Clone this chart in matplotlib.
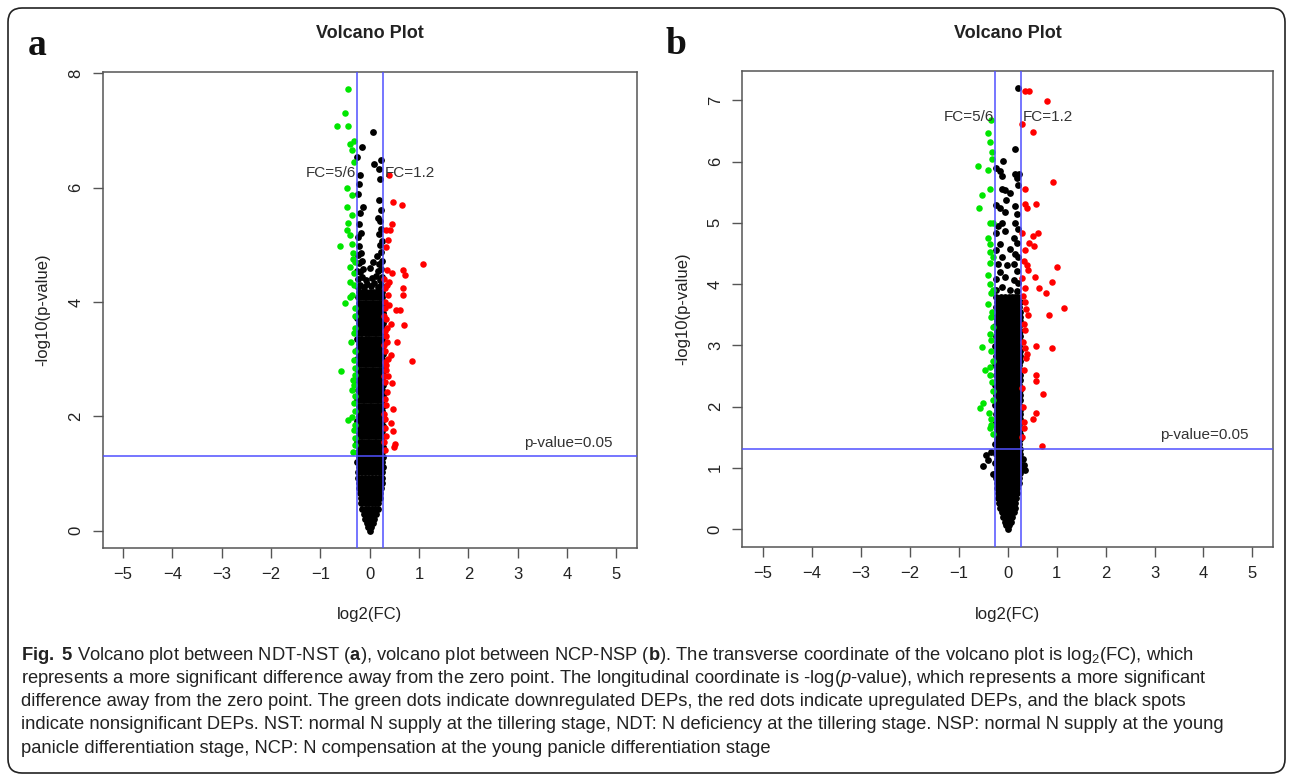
import numpy as np
import matplotlib
matplotlib.use('Agg')
import matplotlib.pyplot as plt
from matplotlib.patches import FancyBboxPatch
from matplotlib.transforms import IdentityTransform

# values (x = log2(FC), y = -log10(p-value))

# panel a (NDT-NST): dense black core, one y per row and the x positions in it
a_core_y = [0.00, 0.06, 0.13, 0.21, 0.30, 0.39, 0.48, 0.57, 0.66, 0.75, 0.84, 0.93,
            1.02, 1.11, 1.20, 1.29, 1.38, 1.47, 1.56, 1.65, 1.74, 1.83, 1.92, 2.01,
            2.10, 2.19, 2.28, 2.37, 2.46, 2.55, 2.64, 2.73, 2.82, 2.91, 3.00, 3.09,
            3.18, 3.27, 3.36, 3.45, 3.54, 3.63, 3.72, 3.81, 3.90, 3.99, 4.08, 4.17]
a_core_x = [
    [0.00],
    [-0.03, 0.03],
    [-0.06, 0.00, 0.06],
    [-0.09, -0.03, 0.03, 0.09],
    [-0.12, -0.05, 0.02, 0.08, 0.13],
    [-0.15, -0.08, -0.01, 0.05, 0.11, 0.16],
    [-0.17, -0.10, -0.03, 0.04, 0.10, 0.17],
    [-0.18, -0.12, -0.05, 0.02, 0.08, 0.14, 0.20],
    [-0.20, -0.13, -0.06, 0.00, 0.07, 0.14, 0.21],
    [-0.21, -0.14, -0.07, -0.01, 0.06, 0.13, 0.19, 0.23],
    [-0.22, -0.15, -0.08, -0.01, 0.06, 0.13, 0.20, 0.24],
    [-0.23, -0.16, -0.09, -0.02, 0.05, 0.12, 0.19, 0.25],
    [-0.24, -0.17, -0.10, -0.03, 0.04, 0.11, 0.18, 0.25],
    [-0.21, -0.14, -0.07, 0.00, 0.07, 0.14, 0.21, 0.26],
    [-0.25, -0.18, -0.11, -0.04, 0.03, 0.10, 0.17, 0.24],
    [-0.22, -0.15, -0.08, -0.01, 0.06, 0.13, 0.20, 0.26],
    [-0.24, -0.17, -0.10, -0.03, 0.04, 0.11, 0.18, 0.25],
    [-0.21, -0.14, -0.07, 0.00, 0.07, 0.15, 0.22, 0.26],
    [-0.25, -0.18, -0.11, -0.04, 0.03, 0.10, 0.17, 0.24],
    [-0.22, -0.15, -0.08, -0.01, 0.06, 0.13, 0.20, 0.26],
    [-0.24, -0.17, -0.10, -0.03, 0.04, 0.11, 0.18, 0.25],
    [-0.21, -0.14, -0.07, 0.01, 0.08, 0.15, 0.22, 0.26],
    [-0.25, -0.18, -0.11, -0.04, 0.03, 0.10, 0.17, 0.24],
    [-0.22, -0.15, -0.08, -0.01, 0.06, 0.13, 0.20, 0.26],
    [-0.24, -0.17, -0.10, -0.03, 0.04, 0.11, 0.19, 0.25],
    [-0.21, -0.14, -0.07, 0.00, 0.07, 0.14, 0.21, 0.26],
    [-0.25, -0.18, -0.11, -0.04, 0.03, 0.10, 0.17, 0.24],
    [-0.22, -0.15, -0.08, -0.01, 0.06, 0.13, 0.20, 0.26],
    [-0.24, -0.17, -0.10, -0.03, 0.04, 0.11, 0.18, 0.25],
    [-0.21, -0.14, -0.07, 0.00, 0.07, 0.14, 0.21, 0.26],
    [-0.25, -0.18, -0.11, -0.04, 0.03, 0.10, 0.17, 0.24],
    [-0.22, -0.15, -0.08, -0.01, 0.06, 0.13, 0.20, 0.26],
    [-0.24, -0.17, -0.10, -0.03, 0.04, 0.11, 0.18, 0.25],
    [-0.21, -0.14, -0.07, 0.00, 0.07, 0.14, 0.21, 0.26],
    [-0.25, -0.18, -0.11, -0.04, 0.03, 0.10, 0.17, 0.24],
    [-0.22, -0.15, -0.08, -0.01, 0.06, 0.13, 0.20, 0.26],
    [-0.24, -0.17, -0.11, -0.03, 0.04, 0.11, 0.18, 0.25],
    [-0.21, -0.14, -0.06, 0.00, 0.07, 0.14, 0.21, 0.26],
    [-0.25, -0.18, -0.10, -0.04, 0.03, 0.10, 0.17, 0.24],
    [-0.22, -0.15, -0.08, -0.01, 0.06, 0.13, 0.20, 0.26],
    [-0.24, -0.17, -0.10, -0.03, 0.04, 0.11, 0.18, 0.25],
    [-0.21, -0.14, -0.07, 0.01, 0.08, 0.14, 0.21, 0.26],
    [-0.25, -0.18, -0.11, -0.04, 0.03, 0.10, 0.17, 0.24],
    [-0.22, -0.15, -0.08, -0.01, 0.06, 0.13, 0.20, 0.26],
    [-0.24, -0.17, -0.10, -0.03, 0.04, 0.12, 0.18, 0.25],
    [-0.21, -0.14, -0.07, 0.00, 0.07, 0.14, 0.21, 0.26],
    [-0.24, -0.17, -0.10, -0.03, 0.05, 0.11, 0.18, 0.24],
    [-0.22, -0.15, -0.08, 0.00, 0.07, 0.13, 0.20, 0.25],
]
a_black_x = [-0.24, -0.19, -0.12, -0.05, 0.02, 0.09, 0.16, 0.22,
             -0.23, -0.16, -0.08, 0.05, 0.13, 0.20, 0.25,
             -0.25, -0.20, -0.13, 0.00, 0.17, 0.23,
             -0.22, -0.15, 0.06, 0.19, 0.25,
             -0.24, -0.18, 0.15, 0.22,
             -0.21, 0.20, 0.24,
             -0.24, -0.17, 0.18, 0.23,
             -0.22, 0.21, -0.20, 0.22, 0.18, -0.23,
             0.06, -0.16, -0.25, 0.09, 0.23, 0.19, -0.19, -0.21, 0.21, 0.17, -0.13]
a_black_y = [4.27, 4.30, 4.26, 4.31, 4.28, 4.33, 4.27, 4.30,
             4.40, 4.44, 4.38, 4.42, 4.45, 4.39, 4.43,
             4.55, 4.52, 4.58, 4.60, 4.54, 4.57,
             4.68, 4.72, 4.70, 4.66, 4.71,
             4.82, 4.86, 4.80, 4.88,
             4.98, 5.00, 5.06,
             5.14, 5.20, 5.18, 5.28,
             5.37, 5.42, 5.55, 5.60, 5.78, 5.88,
             6.98, 6.71, 6.54, 6.41, 6.48, 6.32, 6.22, 6.07, 6.15, 5.46, 5.66]
a_green_x = [-0.43, -0.50, -0.66, -0.43, -0.32, -0.40, -0.36, -0.31, -0.47, -0.36,
             -0.47, -0.36, -0.43, -0.47, -0.40, -0.61, -0.36, -0.33, -0.40, -0.32,
             -0.40, -0.36, -0.50, -0.40, -0.38, -0.32, -0.59, -0.34, -0.36, -0.31,
             -0.43, -0.36, -0.34, -0.31, -0.29, -0.30, -0.29, -0.31, -0.29, -0.30,
             -0.29, -0.31, -0.29, -0.30, -0.29, -0.30, -0.29, -0.31, -0.29, -0.33]
a_green_y = [7.73, 7.30, 7.08, 7.08, 6.81, 6.76, 6.66, 6.45, 5.99, 5.87,
             5.66, 5.52, 5.38, 5.26, 5.17, 4.98, 5.01, 4.85, 4.62, 4.50,
             4.35, 4.12, 3.99, 4.09, 3.30, 2.98, 2.79, 2.63, 2.46, 2.23,
             1.94, 1.99, 1.38, 1.76, 3.90, 3.75, 3.55, 3.45, 3.15, 2.85,
             2.72, 2.55, 2.35, 2.10, 1.85, 1.62, 1.50, 4.30, 4.70, 4.75]
a_red_x = [0.40, 0.47, 0.65, 0.45, 0.33, 0.41, 0.37, 0.33, 1.09, 0.68,
           0.71, 0.45, 0.35, 0.67, 0.68, 0.38, 0.61, 0.70, 0.43, 0.56,
           0.85, 0.43, 0.45, 0.47, 0.43, 0.48, 0.50, 0.52, 0.35, 0.33,
           0.29, 0.31, 0.30, 0.32, 0.29, 0.34, 0.30, 0.33, 0.29, 0.31,
           0.30, 0.34, 0.29, 0.31, 0.30, 0.33, 0.29, 0.31, 0.30, 0.34,
           0.29, 0.31, 0.36, 0.38, 0.37, 0.36, 0.35, 0.40, 0.39, 0.53]
a_red_y = [6.22, 5.75, 5.69, 5.36, 5.26, 5.26, 5.09, 4.96, 4.67, 4.56,
           4.47, 4.50, 4.56, 4.24, 4.12, 4.13, 3.86, 3.60, 3.62, 3.30,
           2.97, 3.07, 2.58, 2.13, 1.88, 1.75, 1.47, 1.52, 2.43, 2.81,
           4.40, 4.25, 4.00, 3.90, 3.75, 3.70, 3.50, 3.40, 3.25, 3.15,
           2.95, 2.90, 2.70, 2.60, 2.30, 2.20, 2.05, 1.95, 1.80, 1.65,
           1.55, 1.42, 3.30, 3.00, 2.70, 4.30, 3.55, 4.35, 3.95, 3.86]

# panel b (NCP-NSP)
b_core_y = [0.00, 0.06, 0.12, 0.19, 0.27, 0.35, 0.43, 0.51, 0.59, 0.67, 0.75, 0.83,
            0.91, 0.99, 1.07, 1.15, 1.23, 1.31, 1.39, 1.47, 1.55, 1.63, 1.71, 1.79,
            1.87, 1.95, 2.03, 2.11, 2.19, 2.27, 2.35, 2.43, 2.51, 2.59, 2.67, 2.75,
            2.83, 2.91, 2.99, 3.07, 3.15, 3.23, 3.31, 3.39, 3.47, 3.55, 3.63, 3.71,
            3.79]
b_core_x = [
    [0.00],
    [-0.03, 0.03],
    [-0.06, 0.00, 0.06],
    [-0.09, -0.03, 0.03, 0.09],
    [-0.12, -0.05, 0.02, 0.08, 0.12],
    [-0.15, -0.08, -0.01, 0.05, 0.11, 0.15],
    [-0.17, -0.10, -0.03, 0.04, 0.10, 0.16],
    [-0.19, -0.12, -0.05, 0.02, 0.08, 0.14, 0.18],
    [-0.20, -0.13, -0.06, 0.00, 0.07, 0.13, 0.20],
    [-0.21, -0.14, -0.07, -0.01, 0.06, 0.13, 0.20],
    [-0.22, -0.15, -0.08, -0.01, 0.06, 0.13, 0.20, 0.23],
    [-0.23, -0.16, -0.09, -0.02, 0.05, 0.12, 0.19, 0.24],
    [-0.24, -0.17, -0.10, -0.03, 0.04, 0.11, 0.18, 0.25],
    [-0.21, -0.14, -0.07, 0.00, 0.07, 0.14, 0.21, 0.26],
    [-0.25, -0.18, -0.11, -0.04, 0.03, 0.10, 0.17, 0.24],
    [-0.22, -0.15, -0.08, -0.01, 0.06, 0.13, 0.20, 0.26],
    [-0.24, -0.17, -0.10, -0.03, 0.04, 0.11, 0.18, 0.25],
    [-0.21, -0.14, -0.07, 0.00, 0.07, 0.15, 0.22, 0.26],
    [-0.25, -0.18, -0.11, -0.04, 0.03, 0.10, 0.17, 0.24],
    [-0.22, -0.15, -0.08, -0.01, 0.06, 0.13, 0.20, 0.26],
    [-0.24, -0.17, -0.10, -0.03, 0.04, 0.11, 0.18, 0.25],
    [-0.21, -0.14, -0.07, 0.01, 0.08, 0.15, 0.22, 0.26],
    [-0.25, -0.18, -0.11, -0.04, 0.03, 0.10, 0.17, 0.24],
    [-0.22, -0.15, -0.08, -0.01, 0.06, 0.13, 0.20, 0.26],
    [-0.24, -0.17, -0.10, -0.03, 0.04, 0.11, 0.19, 0.25],
    [-0.21, -0.14, -0.07, 0.00, 0.07, 0.14, 0.21, 0.26],
    [-0.25, -0.18, -0.11, -0.04, 0.03, 0.10, 0.17, 0.24],
    [-0.22, -0.15, -0.08, -0.01, 0.06, 0.13, 0.20, 0.26],
    [-0.24, -0.17, -0.10, -0.03, 0.04, 0.11, 0.18, 0.25],
    [-0.21, -0.14, -0.07, 0.00, 0.07, 0.14, 0.21, 0.26],
    [-0.25, -0.18, -0.11, -0.04, 0.03, 0.10, 0.17, 0.24],
    [-0.22, -0.15, -0.08, -0.01, 0.06, 0.13, 0.20, 0.26],
    [-0.24, -0.17, -0.10, -0.03, 0.04, 0.11, 0.18, 0.25],
    [-0.21, -0.14, -0.07, 0.00, 0.07, 0.14, 0.21, 0.26],
    [-0.25, -0.18, -0.11, -0.04, 0.03, 0.10, 0.17, 0.24],
    [-0.22, -0.15, -0.08, -0.01, 0.06, 0.13, 0.20, 0.26],
    [-0.24, -0.17, -0.11, -0.03, 0.04, 0.11, 0.18, 0.25],
    [-0.21, -0.14, -0.06, 0.00, 0.07, 0.14, 0.21, 0.26],
    [-0.25, -0.18, -0.10, -0.04, 0.03, 0.10, 0.17, 0.24],
    [-0.22, -0.15, -0.08, -0.01, 0.06, 0.13, 0.20, 0.26],
    [-0.24, -0.17, -0.10, -0.03, 0.04, 0.11, 0.18, 0.25],
    [-0.21, -0.14, -0.07, 0.01, 0.08, 0.14, 0.21, 0.26],
    [-0.25, -0.18, -0.11, -0.04, 0.03, 0.10, 0.17, 0.24],
    [-0.22, -0.15, -0.08, -0.01, 0.06, 0.13, 0.20, 0.26],
    [-0.24, -0.17, -0.10, -0.03, 0.04, 0.12, 0.18, 0.25],
    [-0.21, -0.14, -0.07, 0.00, 0.07, 0.14, 0.21, 0.26],
    [-0.24, -0.17, -0.10, -0.03, 0.05, 0.11, 0.18, 0.24],
    [-0.22, -0.15, -0.08, 0.00, 0.07, 0.13, 0.20, 0.25],
    [-0.23, -0.14, -0.06, 0.02, 0.09, 0.16, 0.22],
]
b_black_x = [-0.23, -0.16, 0.15, 0.19, -0.05, -0.12, -0.19, 0.15, 0.21, -0.23,
             -0.05, 0.12, 0.19, -0.16, -0.23, 0.05, 0.15, 0.21, -0.12, -0.19,
             -0.02, 0.12, 0.19, -0.16, -0.23, -0.05, 0.12, 0.21, -0.12, 0.05,
             -0.23, 0.19, 0.21, 0.15, -0.10, -0.23, -0.15, 0.15, 0.19, 0.24,
             -0.12, 0.21, -0.12, -0.05, 0.05, -0.03, -0.45, -0.50, -0.40, 0.35,
             0.33, -0.35, 0.31, -0.30]
b_black_y = [5.29, 5.24, 5.27, 5.15, 5.18, 5.00, 4.95, 5.00, 4.90, 4.84,
             4.86, 4.75, 4.67, 4.65, 4.55, 4.57, 4.49, 4.44, 4.44, 4.33,
             4.31, 4.33, 4.22, 4.20, 4.09, 4.12, 4.06, 4.01, 3.96, 3.90,
             3.90, 3.88, 7.20, 6.20, 6.01, 5.90, 5.84, 5.79, 5.73, 5.79,
             5.76, 5.62, 5.56, 5.54, 5.48, 5.38, 1.20, 1.03, 1.12, 0.96,
             1.05, 1.25, 1.15, 0.90]
b_green_x = [-0.35, -0.40, -0.36, -0.31, -0.31, -0.60, -0.40, -0.37, -0.53, -0.59,
             -0.36, -0.30, -0.40, -0.36, -0.36, -0.30, -0.36, -0.40, -0.36, -0.34,
             -0.40, -0.31, -0.33, -0.36, -0.35, -0.53, -0.33, -0.30, -0.36, -0.47,
             -0.36, -0.31, -0.29, -0.50, -0.57, -0.38, -0.33, -0.35, -0.36, -0.29,
             -0.30, -0.29, -0.30]
b_green_y = [6.68, 6.46, 6.32, 6.16, 6.04, 5.93, 5.87, 5.56, 5.46, 5.24,
             4.99, 5.00, 4.75, 4.65, 4.53, 4.45, 4.34, 4.15, 4.00, 3.85,
             3.68, 3.55, 3.47, 3.19, 3.08, 2.97, 2.90, 2.75, 2.65, 2.59,
             2.52, 2.40, 2.25, 2.05, 1.98, 1.89, 1.80, 1.70, 1.65, 3.30,
             3.90, 2.10, 1.55]
b_red_x = [0.35, 0.44, 0.81, 0.30, 0.51, 0.92, 0.35, 0.35, 0.58, 0.40,
           0.62, 0.51, 0.29, 0.44, 0.54, 0.35, 0.34, 0.40, 1.00, 0.42,
           0.56, 0.91, 0.35, 0.64, 0.79, 1.15, 0.84, 0.41, 0.35, 0.37,
           0.33, 0.35, 0.32, 0.35, 0.40, 0.38, 0.58, 0.91, 0.58, 0.57,
           0.72, 0.58, 0.52, 0.33, 0.33, 0.31, 0.34, 0.30, 0.70, 0.29,
           0.31, 0.30]
b_red_y = [7.16, 7.16, 6.99, 6.61, 6.49, 5.66, 5.56, 5.31, 5.30, 5.24,
           4.84, 4.78, 4.83, 4.67, 4.62, 4.55, 4.38, 4.31, 4.28, 4.23,
           4.12, 4.03, 3.94, 3.94, 3.85, 3.61, 3.49, 3.49, 3.70, 3.60,
           3.35, 3.25, 3.05, 2.95, 2.85, 2.80, 2.99, 2.96, 2.51, 2.42,
           2.20, 1.90, 1.79, 1.75, 1.65, 2.00, 2.60, 2.30, 1.36, 1.50,
           3.80, 4.10]

x_ticks = [-5, -4, -3, -2, -1, 0, 1, 2, 3, 4, 5]
a_y_ticks = [0, 2, 4, 6, 8]
b_y_ticks = [0, 1, 2, 3, 4, 5, 6, 7]

caption_lines = [
    r"$\mathbf{Fig.}$ $\mathbf{5}$ Volcano plot between NDT-NST ($\mathbf{a}$), volcano plot between NCP-NSP ($\mathbf{b}$). "
    r"The transverse coordinate of the volcano plot is log$_\mathregular{2}$(FC), which",
    r"represents a more significant difference away from the zero point. The longitudinal coordinate is "
    r"-log($\mathit{p}$-value), which represents a more significant",
    "difference away from the zero point. The green dots indicate downregulated DEPs, the red dots indicate "
    "upregulated DEPs, and the black spots",
    "indicate nonsignificant DEPs. NST: normal N supply at the tillering stage, NDT: N deficiency at the tillering "
    "stage. NSP: normal N supply at the young",
    "panicle differentiation stage, NCP: N compensation at the young panicle differentiation stage",
]

fc_low = np.log2(5 / 6)
fc_high = np.log2(1.2)
p_cut = -np.log10(0.05)

W, H = 1293, 776
plt.rcParams['font.family'] = ['Liberation Sans', 'DejaVu Sans']
plt.rcParams['mathtext.fontset'] = 'custom'
plt.rcParams['mathtext.rm'] = 'Liberation Sans'
plt.rcParams['mathtext.it'] = 'Liberation Sans:italic'
plt.rcParams['mathtext.bf'] = 'Liberation Sans:bold'

fig = plt.figure(figsize=(W / 100, H / 100), dpi=100)
fig.patch.set_facecolor('white')


def fx(px):
    return px / W


def fy(py):
    return 1 - py / H


def draw_panel(left, top, right, bottom, xlim, ylim, yticks,
               core_y, core_x, bx, by, gx, gy, rx, ry, fc_y):
    ax = fig.add_axes([fx(left), fy(bottom), (right - left) / W, (bottom - top) / H])
    cx = [x for row in core_x for x in row]
    cy = [y for y, row in zip(core_y, core_x) for _ in row]
    ax.scatter(cx + bx, cy + by, s=24, c='black', linewidths=0, zorder=2)
    ax.scatter(gx, gy, s=22, c='#00e600', linewidths=0, zorder=3)
    ax.scatter(rx, ry, s=22, c='#ff0000', linewidths=0, zorder=3)
    blue = '#5050ff'
    ax.axvline(fc_low, color=blue, lw=1.1, zorder=4)
    ax.axvline(fc_high, color=blue, lw=1.1, zorder=4)
    ax.axhline(p_cut, color=blue, lw=1.1, zorder=4)
    ax.text(fc_low - 0.02, fc_y, 'FC=5/6', ha='right', va='center', fontsize=11, color='#333333', zorder=5)
    ax.text(fc_high + 0.05, fc_y, 'FC=1.2', ha='left', va='center', fontsize=11, color='#333333', zorder=5)
    ax.text(4.93, p_cut + 0.17, 'p-value=0.05', ha='right', va='baseline', fontsize=11, color='#333333')
    ax.set_xlim(*xlim)
    ax.set_ylim(*ylim)
    ax.set_xticks(x_ticks)
    ax.set_yticks(yticks)
    for s in ax.spines.values():
        s.set_color('#555555')
        s.set_linewidth(1.1)
    ax.tick_params(direction='out', length=7, width=1.0, color='#555555',
                   labelsize=12, labelcolor='#222222', pad=7)
    for t in ax.get_yticklabels():
        t.set_rotation(90)
        t.set_va('center')
    cxm = (left + right) / 2
    fig.text(fx(cxm), fy(33), 'Volcano Plot', ha='center', va='center', fontsize=13,
             fontweight='bold', color='#222222')
    fig.text(fx(cxm), fy(615), 'log2(FC)', ha='center', va='center', fontsize=12, color='#222222')
    fig.text(fx(left - 60), fy((top + bottom) / 2), '-log10(p-value)', ha='center', va='center',
             rotation=90, fontsize=12, color='#222222')
    return ax


draw_panel(102.7, 72, 636.7, 548, (-5.41, 5.41), (-0.30, 8.02), a_y_ticks,
           a_core_y, a_core_x, a_black_x, a_black_y, a_green_x, a_green_y, a_red_x, a_red_y, 6.25)
draw_panel(742.3, 71, 1273.0, 546.7, (-5.42, 5.42), (-0.29, 7.48), b_y_ticks,
           b_core_y, b_core_x, b_black_x, b_black_y, b_green_x, b_green_y, b_red_x, b_red_y, 6.73)

fig.text(fx(28), fy(55), 'a', fontsize=27, fontweight='bold', family='Liberation Serif',
         ha='left', va='baseline', color='#111111')
fig.text(fx(666), fy(54), 'b', fontsize=27, fontweight='bold', family='Liberation Serif',
         ha='left', va='baseline', color='#111111')

for i, line in enumerate(caption_lines):
    fig.text(fx(21), fy(655 + 23.3 * i), line, ha='left', va='center', fontsize=13.2,
             family=['Liberation Sans', 'DejaVu Sans'], color='#222222')

frame = FancyBboxPatch((8, 3), 1277, 765, boxstyle='round,pad=0,rounding_size=14',
                       transform=IdentityTransform(), fill=False, ec='#222222', lw=1.2)
fig.add_artist(frame)

fig.savefig('out.png', dpi=100, facecolor='white')
